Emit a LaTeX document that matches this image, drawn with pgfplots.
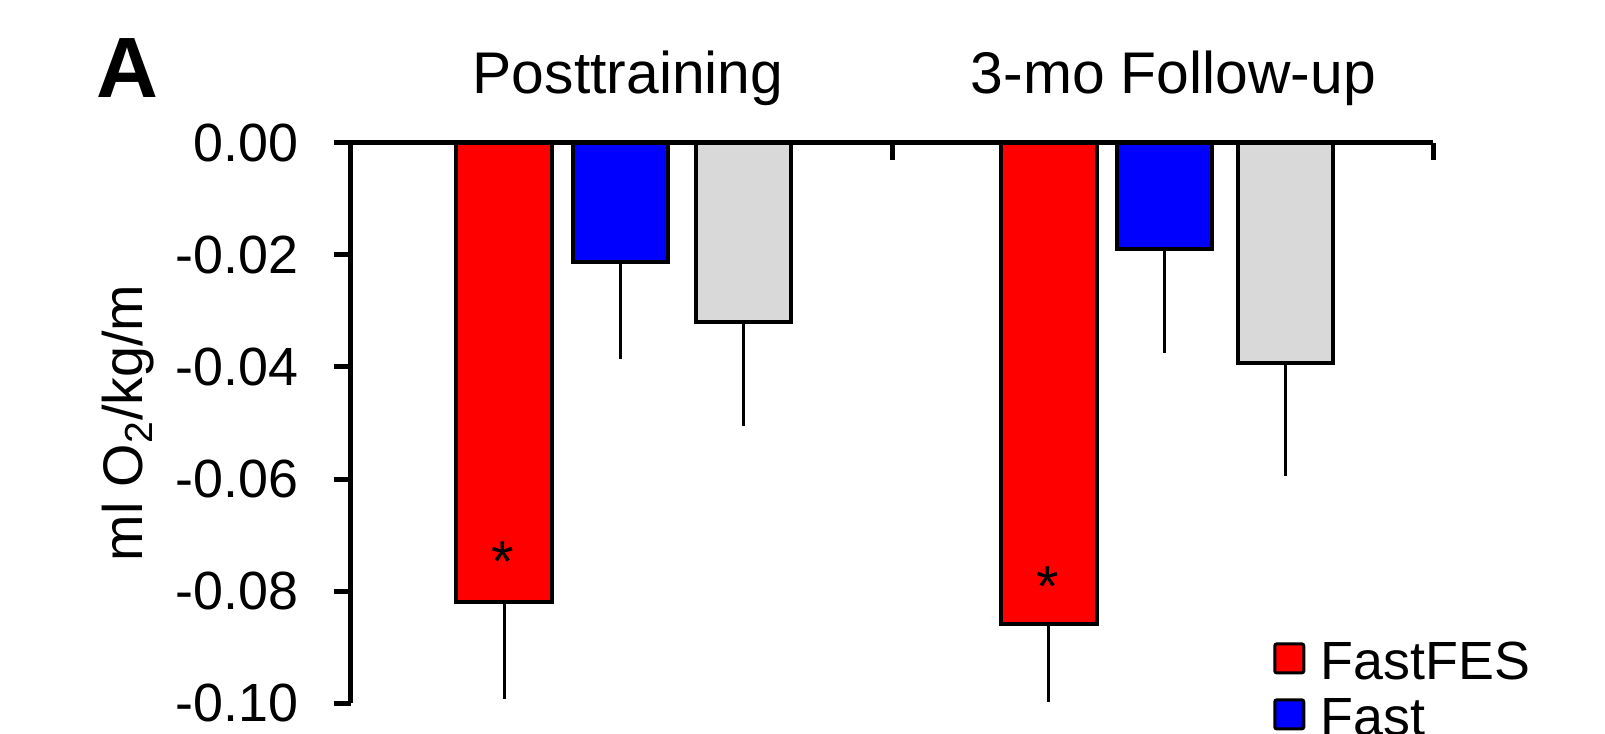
\documentclass[border=0pt]{standalone}
\usepackage{fontspec}
\setmainfont{Liberation Sans}
\usepackage{pgfplots}
\pgfplotsset{compat=1.18}
\definecolor{barred}{RGB}{255,0,0}
\definecolor{barblue}{RGB}{0,0,255}
\definecolor{bargray}{RGB}{217,217,217}
\pgfplotsset{
  legsq/.style={legend image code/.code={\draw[##1,line width=1.5bp,draw=black,rounded corners=1bp] (0bp,-7.25bp) rectangle (14.5bp,7.25bp); \path (20bp,0bp);}},
  errstyle/.style={error bars/.cd, y dir=minus, y explicit, error mark=none,
     error bar style={line width=1.6bp, black}, /pgfplots/.cd},
}
\begin{document}
\begin{tikzpicture}
\begin{axis}[
  scale only axis, width=541bp, height=280bp,
  xmin=0, xmax=2, ymin=-0.1, ymax=0,
  axis x line*=top, axis y line*=left,
  axis line style={line width=2.5bp, black},
  clip=false,
  xtick={0,1,2}, xticklabels={},
  ytick={-0.10,-0.08,-0.06,-0.04,-0.02,0},
  yticklabels={-0.10,-0.08,-0.06,-0.04,-0.02,0.00},
  tick align=inside, major tick length=8.5bp,
  xtick style={line width=2.5bp, black},
  ytick style={line width=2.5bp, black, xshift=-8.5bp},
  yticklabel style={inner sep=0pt, xshift=-26bp, font=\fontsize{27}{30}\selectfont},
  ylabel={ml O\textsubscript{2}/kg/m},
  ylabel style={at={(rel axis cs:0,0.5)}, anchor=center, rotate=0, yshift=111.5bp, font=\fontsize{28}{30}\selectfont},
  legend style={draw=none, fill=none, at={(0.852,0.125)}, anchor=north west,
     inner sep=0pt, row sep=3bp, font=\fontsize{27}{30}\selectfont,
     nodes={inner sep=2bp, text height=21bp, text depth=0bp}},
  legend cell align=left,
]
\addplot[ybar, bar width=0.176, bar shift=0pt, fill=barred, draw=black, line width=2bp, legsq, errstyle]
  coordinates {(0.283,-0.0820) +- (0,0.0173) (1.290,-0.0859) +- (0,0.0139)};
\addplot[ybar, bar width=0.176, bar shift=0pt, fill=barblue, draw=black, line width=2bp, legsq, errstyle]
  coordinates {(0.498,-0.0212) +- (0,0.0174) (1.504,-0.0190) +- (0,0.0185)};
\addplot[forget plot, ybar, bar width=0.176, bar shift=0pt, fill=bargray, draw=black, line width=2bp, legsq, errstyle]
  coordinates {(0.725,-0.0320) +- (0,0.0186) (1.727,-0.0393) +- (0,0.0201)};
\legend{FastFES,Fast}
\node[font=\fontsize{29}{30}\selectfont] at (axis cs:0.280,-0.0748) {*};
\node[font=\fontsize{29}{30}\selectfont] at (axis cs:1.287,-0.0793) {*};
\node[anchor=base, font=\fontsize{29.5}{32}\selectfont] at (axis cs:0.512,0.00875) {Posttraining};
\node[anchor=base, font=\fontsize{29.5}{32}\selectfont] at (axis cs:1.52,0.00875) {3-mo Follow-up};
\end{axis}
\node[anchor=base west, inner sep=0pt, font=\fontsize{43}{45}\selectfont\bfseries] at (-127.5bp,302.5bp) {A};
\pgfresetboundingbox
\path (-175.5bp,-15.5bp) rectangle (627bp,351.5bp);
\end{tikzpicture}
\end{document}
